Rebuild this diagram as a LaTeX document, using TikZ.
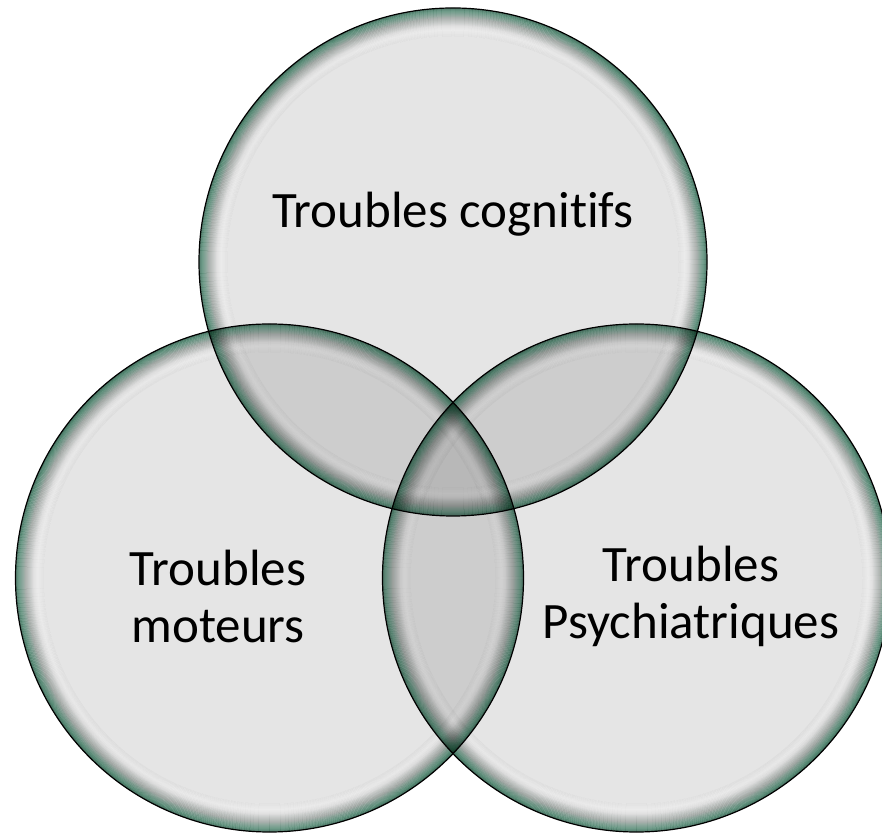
\documentclass[tikz,border=0pt]{standalone}
\usepackage{fontspec}
\setmainfont{Carlito}[Ligatures=NoCommon]
\definecolor{fond}{HTML}{E5E5E5}
\definecolor{clair}{HTML}{EEEEEE}
\definecolor{ombre}{HTML}{B0B6B3}
\definecolor{vert}{HTML}{639C86}
\definecolor{vertfonce}{HTML}{3F7A64}
\begin{document}
\begin{tikzpicture}[x=0.5pt,y=0.5pt,
	bulle/.style={blend mode=multiply},
	anneau/.style={bulle,even odd rule},
	etiquette/.style={font=\fontsize{25.5}{28.5}\selectfont,align=center}]
	\useasboundingbox (0,0) rectangle (882,834);
	\clip (0,0) rectangle (882,834);
		\path
	(453,572) coordinate (C)
	(269.5,256) coordinate (M)
	(636.5,256) coordinate (P)
	;
	% each bubble: the rim ring by ring, then the inner disc
	\foreach \c in {C,M,P}{
		\foreach \da/\db/\ca/\cb in {0/3/vertfonce/vert,3/10/vert/ombre,10/18/ombre/fond,18/22/fond/clair,22/28/clair/fond}{
			\pgfmathtruncatemacro\n{2*(\db-\da)-1}
			\foreach \k in {0,...,\n}{
				\pgfmathsetmacro\t{100*(1-\k/(2*(\db-\da)))}
				\fill[anneau,\ca!\t!\cb] (\c) circle (254-\da-\k/2) circle (253.5-\da-\k/2);
			}
		}
		\fill[fond,bulle] (\c) circle (226);
	}
	\foreach \c in {C,M,P}\draw[line width=0.6pt] (\c) circle (254);
	\node[etiquette] (cog) at (453,620) {Troubles cognitifs};
	\node[etiquette] (mot) at (218,238) {Troubles\\moteurs};
	\node[etiquette] (psy) at (691,238) {Troubles\\Psychiatriques};
\end{tikzpicture}
\end{document}
